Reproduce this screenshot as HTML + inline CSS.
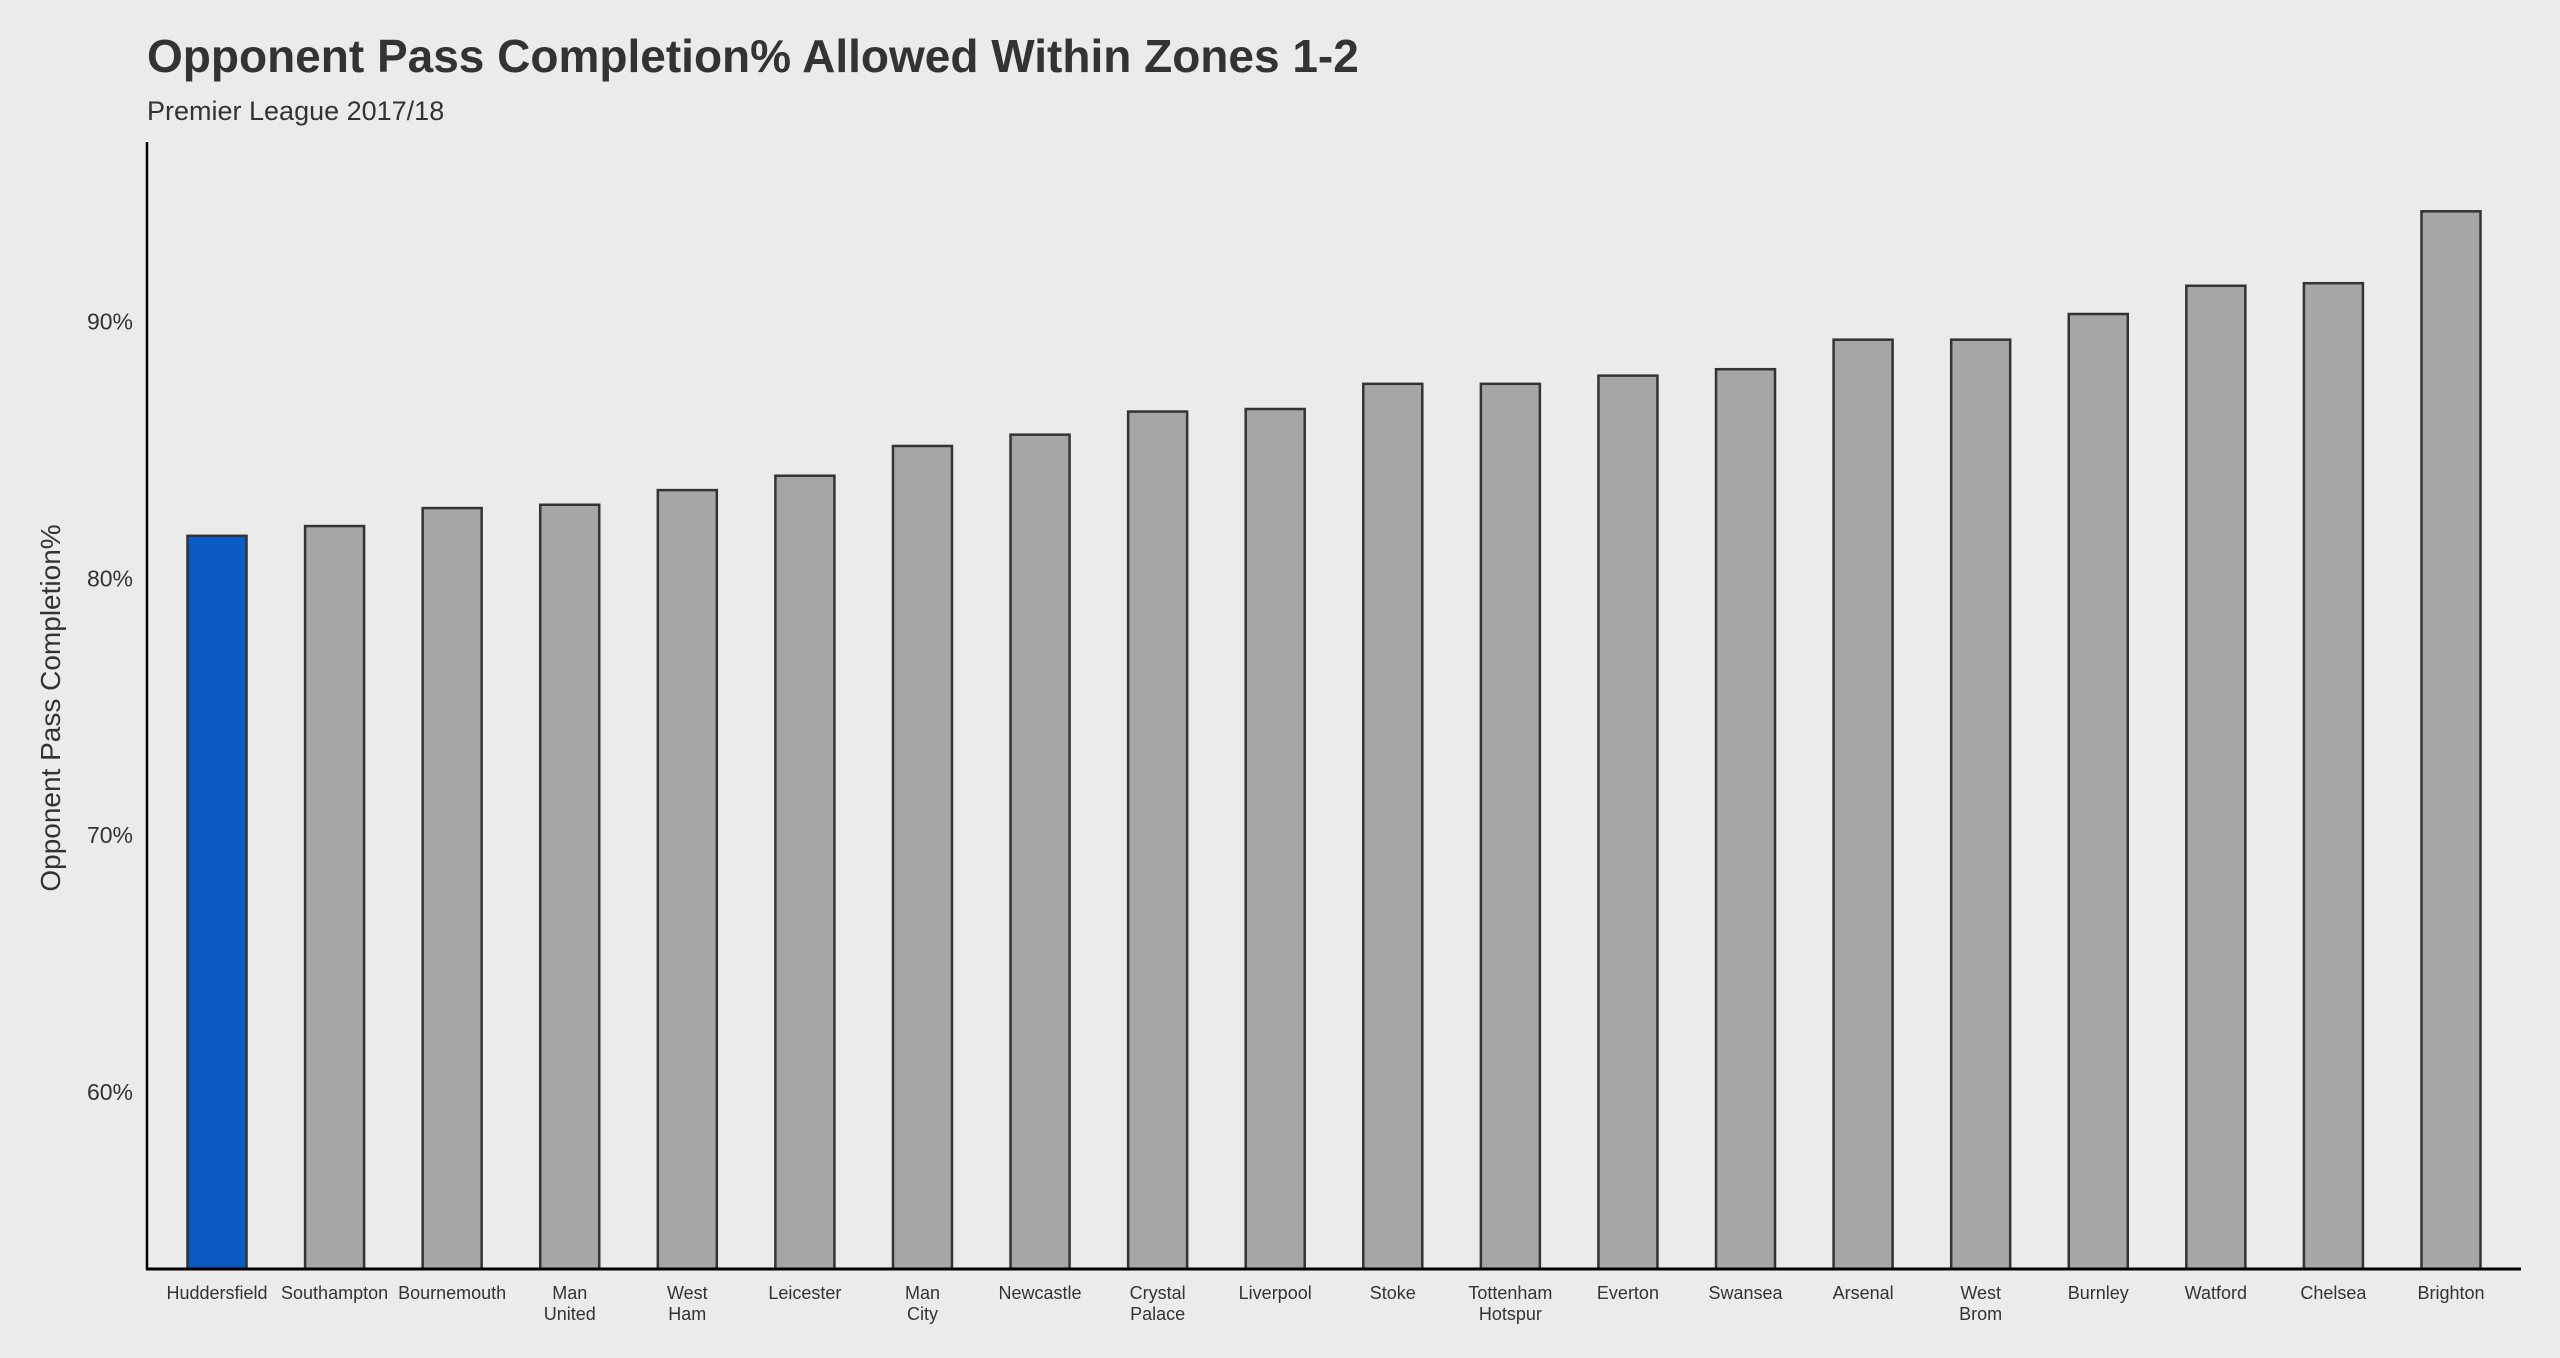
<!DOCTYPE html>
<html><head><meta charset="utf-8"><style>
html,body{margin:0;padding:0;background:#ebebeb;}
svg{display:block;font-family:"Liberation Sans",Arial,sans-serif;}
</style></head><body>
<svg id="chart" width="2560" height="1358" viewBox="0 0 2560 1358">
<rect width="2560" height="1358" fill="#ebebeb"/>
<text x="147" y="72" font-size="46" font-weight="bold" fill="#333">Opponent Pass Completion% Allowed Within Zones 1-2</text>
<text x="147" y="120" font-size="27" fill="#333">Premier League 2017/18</text>
<text transform="translate(60,708) rotate(-90)" text-anchor="middle" font-size="28" fill="#333">Opponent Pass Completion%</text>
<g id="bars"></g>
<g id="yticks"></g>
<g id="xlabels"></g>
<line x1="147" y1="142" x2="147" y2="1270" stroke="#000" stroke-width="2.5"/>
<line x1="146" y1="1269" x2="2521" y2="1269" stroke="#000" stroke-width="3"/>
</svg>
<script>
const teams=["Huddersfield","Southampton","Bournemouth","Man\nUnited","West\nHam","Leicester","Man\nCity","Newcastle","Crystal\nPalace","Liverpool","Stoke","Tottenham\nHotspur","Everton","Swansea","Arsenal","West\nBrom","Burnley","Watford","Chelsea","Brighton"];
const values=[81.66,82.04,82.74,82.87,83.44,84.0,85.16,85.6,86.5,86.6,87.58,87.58,87.9,88.15,89.3,89.3,90.3,91.4,91.5,94.3];
const yTicks=[60,70,80,90];
const yTickLabels=["60%","70%","80%","90%"];
const highlight="Huddersfield";
const NS="http://www.w3.org/2000/svg";
const yMin=53.1,yMax=97.0,plotTop=142,plotBottom=1269;
function y(v){return plotBottom-(v-yMin)/(yMax-yMin)*(plotBottom-plotTop);}
const xStart=217,xEnd=2451;
function x(i){return xStart+i*(xEnd-xStart)/(teams.length-1);}
const bw=59;
const bars=document.getElementById('bars');
values.forEach((v,i)=>{
  const r=document.createElementNS(NS,'rect');
  r.setAttribute('x',x(i)-bw/2);r.setAttribute('y',y(v));
  r.setAttribute('width',bw);r.setAttribute('height',plotBottom-y(v));
  r.setAttribute('fill',teams[i]===highlight?'#0c5ac3':'#a6a6a6');
  r.setAttribute('stroke','#333');r.setAttribute('stroke-width','2.5');
  
  
  bars.appendChild(r);
});
const yt=document.getElementById('yticks');
yTicks.forEach((t,i)=>{
  const tx=document.createElementNS(NS,'text');
  tx.setAttribute('x',133);tx.setAttribute('y',y(t)+8);
  tx.setAttribute('text-anchor','end');tx.setAttribute('font-size','23');tx.setAttribute('fill','#333');
  tx.textContent=yTickLabels[i];
  
  
  yt.appendChild(tx);
});
const xl=document.getElementById('xlabels');
teams.forEach((t,i)=>{
  const tx=document.createElementNS(NS,'text');
  tx.setAttribute('text-anchor','middle');tx.setAttribute('font-size','18');tx.setAttribute('fill','#333');
  t.split('\n').forEach((line,j)=>{
    const ts=document.createElementNS(NS,'tspan');
    ts.setAttribute('x',x(i));ts.setAttribute('y',1299+j*21);
    ts.textContent=line;tx.appendChild(ts);
  });
  
  
  xl.appendChild(tx);
});
</script>
</body></html>
